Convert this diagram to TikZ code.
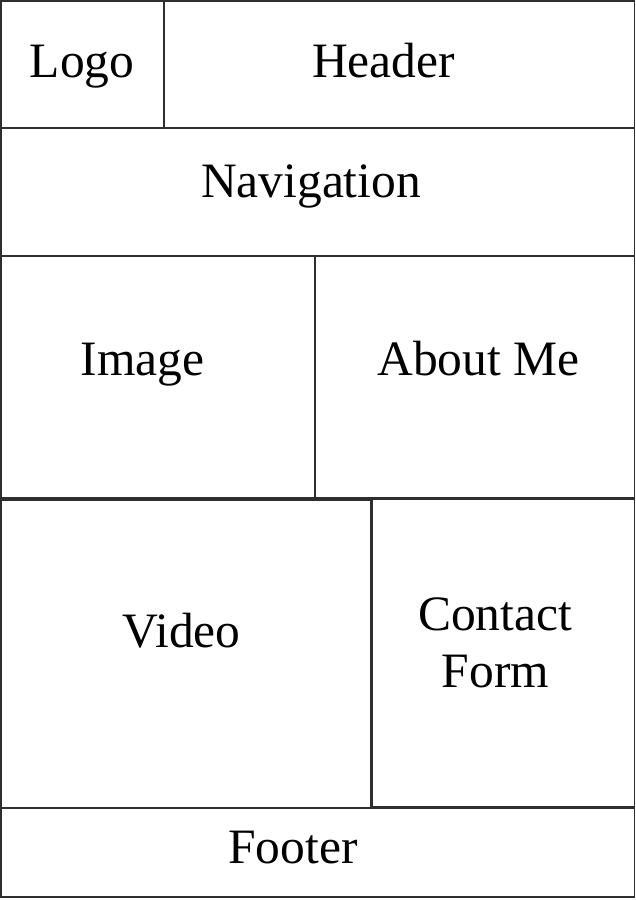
\documentclass[tikz,border=0pt]{standalone}
\usepackage{fontspec}
\setmainfont{Liberation Serif}
\usetikzlibrary{fit}
\begin{document}
\begin{tikzpicture}[x=1pt,y=-1pt,
  cell/.style={draw=black!82, line width=1.7pt, rectangle, inner sep=0pt},
  label/.style={anchor=base, inner sep=0pt, font=\fontsize{49.5}{57}\selectfont}]
  \useasboundingbox (0,0) rectangle (636,900);
  \fill[white] (0,0) rectangle (636,900);

  % page regions
  \node[cell, fit={(0.8,1) (164,128)}] (logo) {};
  \node[cell, fit={(164,1) (634.5,128)}] (header) {};
  \node[cell, fit={(0.8,128) (634.5,256)}] (nav) {};
  \node[cell, fit={(0.8,256) (315,498)}] (image) {};
  \node[cell, fit={(315,256) (634.5,498)}] (about) {};
  \node[cell, fit={(0.8,500) (371,808)}] (video) {};
  \node[cell, fit={(372,499) (634.5,807)}] (contact) {};
  \node[cell, fit={(0.8,808) (634.5,897)}] (footer) {};

  % region titles
  \node[label] (logotxt) at (82,77) {Logo};
  \node[label] (headertxt) at (383.5,77) {Header};
  \node[label] (navtxt) at (311,197) {Navigation};
  \node[label] (imagetxt) at (142.5,375) {Image};
  \node[label] (abouttxt) at (478.5,375) {About Me};
  \node[label] (videotxt) at (181.5,647) {Video};
  \node[label] (contacttxt) at (495,630) {Contact};
  \node[label] (formtxt) at (495.5,687) {Form};
  \node[label] (footertxt) at (293,863) {Footer};
\end{tikzpicture}
\end{document}
